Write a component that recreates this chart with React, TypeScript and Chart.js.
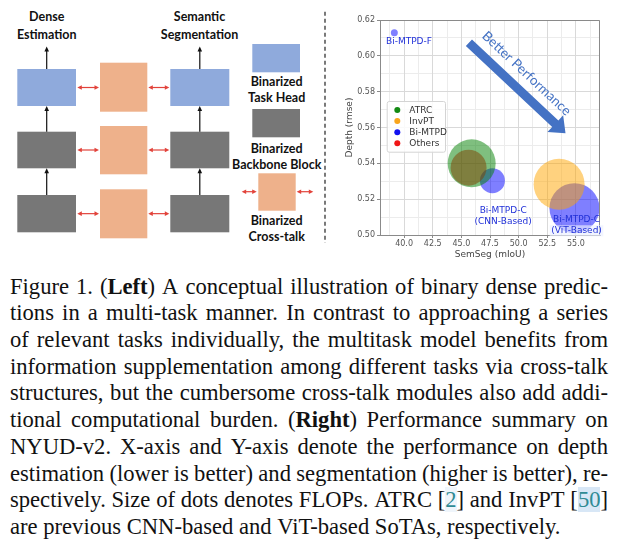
import React, { useEffect, useRef } from "react";
import { Chart, registerables } from "chart.js";

Chart.register(...registerables);

// ---------------- data ----------------
const xTickValues = [40.0, 42.5, 45.0, 47.5, 50.0, 52.5, 55.0];
const yTickValues = [0.5, 0.52, 0.54, 0.56, 0.58, 0.6, 0.62];

const atrcSemSeg = [45.9];
const atrcDepth = [0.54];
const atrcSize = [24];

const invptSemSeg = [53.53];
const invptDepth = [0.5283];
const invptSize = [25.5];

const othersSemSeg = [45.63];
const othersDepth = [0.5376];
const othersSize = [18];

const biSemSeg = [39.15, 47.71, 54.87];
const biDepth = [0.6129, 0.5303, 0.515];
const biSize = [3.5, 12.5, 25];
const biLabels = [["Bi-MTPD-F"], ["Bi-MTPD-C", "(CNN-Based)"], ["Bi-MTPD-C", "(ViT-Based)"]];
const biLabelSemSeg = [40.43, 48.65, 55.05];
const biLabelDepth = [0.6077, 0.5136, 0.5084];

const legendNames = ["ATRC", "InvPT", "Bi-MTPD", "Others"];
const legendColors = ["#138a13", "#f8a51c", "#1212f0", "#f01616"];

const arrowFrom = [45.66, 0.6073];
const arrowTo = [54.09, 0.5568];
const arrowText = "Better Performance";

const captionLines = [
  "Figure 1. (**Left**) A conceptual illustration of binary dense predic-",
  "tions in a multi-task manner. In contrast to approaching a series",
  "of relevant tasks individually, the multitask model benefits from",
  "information supplementation among different tasks via cross-talk",
  "structures, but the cumbersome cross-talk modules also add addi-",
  "tional computational burden. (**Right**) Performance summary on",
  "NYUD-v2. X-axis and Y-axis denote the performance on depth",
  "estimation (lower is better) and segmentation (higher is better), re-",
  "spectively. Size of dots denotes FLOPs. ATRC [2] and InvPT [50]",
  "are previous CNN-based and ViT-based SoTAs, respectively.",
];

// ---------------- chart ----------------
const TICK_FONT = { family: "'DejaVu Sans', sans-serif", size: 8 };
const TITLE_FONT = { family: "'DejaVu Sans', sans-serif", size: 9 };

const overlayPlugin = {
  id: "overlay",
  afterDatasetsDraw(chart: any) {
    const { ctx, chartArea: a, scales } = chart;
    const x = scales.x;
    const y = scales.y;
    ctx.save();
    // top / right spines
    ctx.strokeStyle = "#8a8a8a";
    ctx.lineWidth = 1;
    ctx.beginPath();
    ctx.moveTo(Math.round(a.left) + 0.5, Math.round(a.top) + 0.5);
    ctx.lineTo(Math.round(a.right) - 0.5, Math.round(a.top) + 0.5);
    ctx.lineTo(Math.round(a.right) - 0.5, Math.round(a.bottom));
    ctx.stroke();

    // labels of Bi-MTPD points
    ctx.font = "9px 'DejaVu Sans', sans-serif";
    ctx.textAlign = "center";
    ctx.textBaseline = "middle";
    biLabels.forEach((lines, i) => {
      const px = x.getPixelForValue(biLabelSemSeg[i]);
      const py = y.getPixelForValue(biLabelDepth[i]);
      lines.forEach((t, j) => {
        const ly = py + j * 10.8;
        if (i === 2 && j === 1) {
          const w = ctx.measureText(t).width;
          ctx.fillStyle = "rgba(235,240,255,0.65)";
          ctx.fillRect(px - w / 2 - 1.5, ly - 5.5, w + 3, 11);
        }
        ctx.fillStyle = "#2030d8";
        ctx.fillText(t, px, ly);
      });
    });

    // Better Performance arrow
    const x1 = x.getPixelForValue(arrowFrom[0]);
    const y1 = y.getPixelForValue(arrowFrom[1]);
    const x2 = x.getPixelForValue(arrowTo[0]);
    const y2 = y.getPixelForValue(arrowTo[1]);
    const ang = Math.atan2(y2 - y1, x2 - x1);
    const len = Math.hypot(x2 - x1, y2 - y1);
    const sw = 9, hw = 23, hl = 14;
    ctx.save();
    ctx.translate(x1, y1);
    ctx.rotate(ang);
    ctx.fillStyle = "#4472c4";
    ctx.beginPath();
    ctx.moveTo(0, -sw / 2);
    ctx.lineTo(len - hl, -sw / 2);
    ctx.lineTo(len - hl, -hw / 2);
    ctx.lineTo(len, 0);
    ctx.lineTo(len - hl, hw / 2);
    ctx.lineTo(len - hl, sw / 2);
    ctx.lineTo(0, sw / 2);
    ctx.closePath();
    ctx.fill();
    ctx.font = "13.5px Lato, 'Open Sans', sans-serif";
    ctx.textAlign = "center";
    ctx.textBaseline = "middle";
    ctx.fillText(arrowText, 63, -17);
    ctx.restore();

    // legend
    const lx = a.left + 6.7;
    const ly = a.top + 81;
    const lw = 58.3;
    const lh = 50.7;
    ctx.fillStyle = "rgba(255,255,255,0.85)";
    ctx.strokeStyle = "#d4d4d4";
    ctx.lineWidth = 1;
    ctx.beginPath();
    if ((ctx as any).roundRect) (ctx as any).roundRect(lx + 0.5, ly + 0.5, lw, lh, 2);
    else ctx.rect(lx + 0.5, ly + 0.5, lw, lh);
    ctx.fill();
    ctx.stroke();
    ctx.font = "9px 'DejaVu Sans', sans-serif";
    ctx.textAlign = "left";
    ctx.textBaseline = "middle";
    legendNames.forEach((n, i) => {
      const cy = ly + 9 + i * 11.1;
      ctx.fillStyle = legendColors[i];
      ctx.beginPath();
      ctx.arc(lx + 10.6, cy, 3, 0, Math.PI * 2);
      ctx.fill();
      ctx.fillStyle = "#333";
      ctx.fillText(n, lx + 22.6, cy + 0.5);
    });
    ctx.restore();
  },
};

function toPoints(xs: number[], ys: number[], rs: number[]) {
  return xs.map((v, i) => ({ x: v, y: ys[i], r: rs[i] }));
}

function BubbleChart() {
  const ref = useRef<HTMLCanvasElement | null>(null);
  useEffect(() => {
    if (!ref.current) return;
    const chart = new Chart(ref.current, {
      type: "bubble",
      data: {
        datasets: [
          { label: "ATRC", data: toPoints(atrcSemSeg, atrcDepth, atrcSize), backgroundColor: "rgba(0,128,0,0.5)", borderWidth: 0, clip: 0 },
          { label: "InvPT", data: toPoints(invptSemSeg, invptDepth, invptSize), backgroundColor: "rgba(255,165,0,0.5)", borderWidth: 0, clip: 0 },
          { label: "Others", data: toPoints(othersSemSeg, othersDepth, othersSize), backgroundColor: "rgba(255,0,0,0.5)", borderWidth: 0, clip: 0 },
          { label: "Bi-MTPD", data: toPoints(biSemSeg, biDepth, biSize), backgroundColor: "rgba(0,0,255,0.5)", borderWidth: 0, clip: 0 },
        ] as any,
      },
      options: {
        responsive: false,
        animation: false,
        events: [],
        layout: { autoPadding: false, padding: { left: 0, top: 20, right: 18, bottom: 0 } },
        plugins: { legend: { display: false }, tooltip: { enabled: false } },
        scales: {
          xMinor: {
            type: "linear", position: "bottom", min: 37.9, max: 57.1, z: -1,
            afterFit: (s: any) => { s.height = 0; },
            ticks: { display: false, stepSize: 1.25, includeBounds: false },
            grid: { color: "#ececec", drawTicks: false, tickLength: 0 },
            border: { display: false },
          },
          yMinor: {
            type: "linear", position: "left", min: 0.5, max: 0.62, z: -1,
            afterFit: (s: any) => { s.width = 0; },
            ticks: { display: false, stepSize: 0.01, includeBounds: false },
            grid: { color: "#ececec", drawTicks: false, tickLength: 0 },
            border: { display: false },
          },
          x: {
            type: "linear", position: "bottom", min: 37.9, max: 57.1,
            afterFit: (s: any) => { s.height = 27; },
            afterBuildTicks: (s: any) => { s.ticks = xTickValues.map((v) => ({ value: v })); },
            ticks: {
              font: TICK_FONT, color: "#555", padding: 1, maxRotation: 0, autoSkip: false,
              callback: (v: any) => Number(v).toFixed(1),
            },
            grid: { color: "#d9d9d9", tickLength: 3, tickColor: "#8a8a8a" },
            border: { color: "#8a8a8a" },
            title: { display: true, text: "SemSeg (mIoU)", font: TITLE_FONT, color: "#444", padding: { top: 0, bottom: 2 } },
          },
          y: {
            type: "linear", position: "left", min: 0.5, max: 0.62,
            afterFit: (s: any) => { s.width = 50; },
            afterBuildTicks: (s: any) => { s.ticks = yTickValues.map((v) => ({ value: v })); },
            ticks: {
              font: TICK_FONT, color: "#555", padding: 2, autoSkip: false,
              callback: (v: any) => Number(v).toFixed(2),
            },
            grid: { color: "#d9d9d9", tickLength: 3, tickColor: "#8a8a8a" },
            border: { color: "#8a8a8a" },
            title: { display: true, text: "Depth (rmse)", font: TITLE_FONT, color: "#444", padding: { top: 14.5, bottom: 0 } },
          },
        } as any,
      },
      plugins: [overlayPlugin],
    } as any);
    return () => chart.destroy();
  }, []);
  return (
    <canvas
      ref={ref}
      width={288}
      height={262}
      style={{ position: "absolute", left: 330, top: 0, width: 288, height: 262 }}
    />
  );
}

// ---------------- diagram ----------------
const DFONT = "Lato, 'Open Sans', sans-serif";

function UpArrow({ x, y1, y2 }: { x: number; y1: number; y2: number }) {
  return (
    <g>
      <line x1={x} y1={y1} x2={x} y2={y2 + 4} stroke="#111" strokeWidth={1.2} />
      <polygon points={`${x},${y2} ${x - 2.3},${y2 + 5} ${x + 2.3},${y2 + 5}`} fill="#111" />
    </g>
  );
}

function DoubleArrow({ x1, x2, y }: { x1: number; x2: number; y: number }) {
  const c = "#e2433b";
  return (
    <g>
      <line x1={x1 + 3} y1={y} x2={x2 - 3} y2={y} stroke={c} strokeWidth={1.2} />
      <polygon points={`${x1},${y} ${x1 + 4.5},${y - 2.3} ${x1 + 4.5},${y + 2.3}`} fill={c} />
      <polygon points={`${x2},${y} ${x2 - 4.5},${y - 2.3} ${x2 - 4.5},${y + 2.3}`} fill={c} />
    </g>
  );
}

function Label({ x, y, t }: { x: number; y: number; t: string }) {
  return (
    <text x={x} y={y} textAnchor="middle" dominantBaseline="central" fontFamily={DFONT} fontWeight={700} fontSize={12.5} fill="#111">
      {t}
    </text>
  );
}

function Diagram() {
  const blue = "#8faadc";
  const gray = "#777777";
  const orange = "#eeb18b";
  const rows = [
    { y: 69, h: 37, c: blue },
    { y: 131.7, h: 36.6, c: gray },
    { y: 195, h: 37.3, c: gray },
  ];
  const mids = [
    { y: 62.7, h: 49 },
    { y: 126, h: 48.3 },
    { y: 189.3, h: 49 },
  ];
  return (
    <svg width={330} height={260} style={{ position: "absolute", left: 0, top: 0 }}>
      <Label x={46.7} y={16.7} t="Dense" />
      <Label x={46.7} y={34.3} t="Estimation" />
      <Label x={199.5} y={16.7} t="Semantic" />
      <Label x={199.5} y={34.3} t="Segmentation" />
      {rows.map((r, i) => (
        <g key={i}>
          <rect x={17.3} y={r.y} width={58.7} height={r.h} fill={r.c} />
          <rect x={170.3} y={r.y} width={59} height={r.h} fill={r.c} />
          <rect x={100} y={mids[i].y} width={47.3} height={mids[i].h} fill={orange} />
          <DoubleArrow x1={77.3} x2={99} y={r.y + r.h / 2} />
          <DoubleArrow x1={148.3} x2={169.3} y={r.y + r.h / 2} />
        </g>
      ))}
      <UpArrow x={46.7} y1={69} y2={46.5} />
      <UpArrow x={46.7} y1={131.7} y2={106} />
      <UpArrow x={46.7} y1={195} y2={168.3} />
      <UpArrow x={199.8} y1={69} y2={46.5} />
      <UpArrow x={199.8} y1={131.7} y2={106} />
      <UpArrow x={199.8} y1={195} y2={168.3} />

      <rect x={252.3} y={44} width={47.7} height={28.3} fill={blue} />
      <Label x={276.7} y={81.7} t="Binarized" />
      <Label x={276.7} y={97.7} t="Task Head" />
      <rect x={252.3} y={109} width={47.7} height={28.3} fill={gray} />
      <Label x={276.7} y={148.3} t="Binarized" />
      <Label x={276.7} y={164.3} t="Backbone Block" />
      <rect x={258.3} y={173.3} width={37.4} height={37.4} fill={orange} />
      <DoubleArrow x1={241.7} x2={256.7} y={191.7} />
      <DoubleArrow x1={296.7} x2={313.3} y={191.7} />
      <Label x={276.7} y={220.7} t="Binarized" />
      <Label x={276.7} y={236.7} t="Cross-talk" />

      <line x1={325} y1={11.7} x2={325} y2={243} stroke="#222" strokeWidth={1.2} strokeDasharray="4 3" />
    </svg>
  );
}

// ---------------- caption ----------------
function Word({ w }: { w: string }) {
  const bold = w.match(/^(.*)\*\*(.+)\*\*(.*)$/);
  if (bold) {
    return (
      <span>
        {bold[1]}
        <b>{bold[2]}</b>
        {bold[3]}
      </span>
    );
  }
  const cite = w.match(/^\[(\d+)\]$/);
  if (cite) {
    return (
      <span>
        [<span style={{ color: "#2f8a94", background: cite[1] === "50" ? "rgba(190,215,240,0.6)" : "rgba(215,230,245,0.4)" }}>{cite[1]}</span>]
      </span>
    );
  }
  return <span>{w}</span>;
}

function Caption() {
  return (
    <div
      style={{
        position: "absolute",
        left: 10,
        top: 273.7,
        width: 598,
        fontFamily: '"Liberation Serif", Tinos, "Times New Roman", Times, serif',
        fontSize: 22.6,
        lineHeight: "26.7px",
        color: "#111",
      }}
    >
      {captionLines.map((line, i) => {
        const words = line.split(" ");
        const last = i === captionLines.length - 1;
        return (
          <div
            key={i}
            style={{
              display: "flex",
              justifyContent: last ? "flex-start" : "space-between",
              gap: last ? "0.25em" : 0,
              whiteSpace: "nowrap",
              height: 26.7,
            }}
          >
            {words.map((w, j) => (
              <Word key={j} w={w} />
            ))}
          </div>
        );
      })}
    </div>
  );
}

export default function App() {
  return (
    <div
      style={{
        position: "absolute",
        left: 0,
        top: 0,
        width: 618,
        height: 556,
        background: "#fff",
        overflow: "hidden",
      }}
    >
      <Diagram />
      <BubbleChart />
      <Caption />
    </div>
  );
}
